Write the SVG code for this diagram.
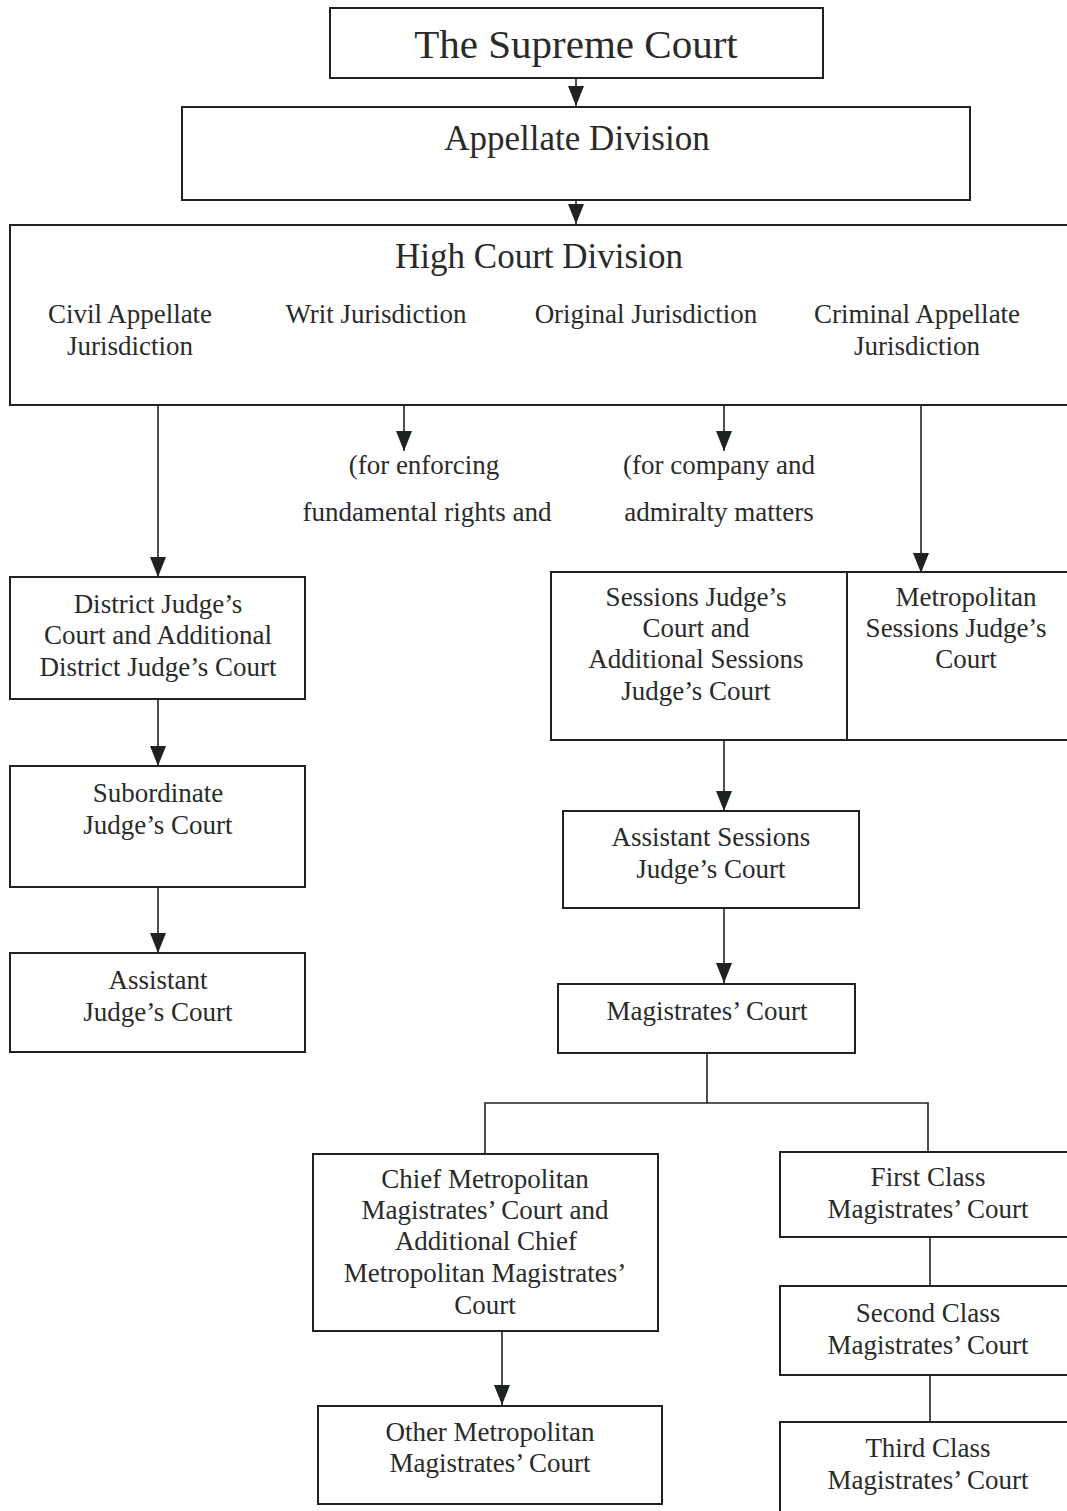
<svg xmlns="http://www.w3.org/2000/svg" width="1067" height="1511" viewBox="0 0 1067 1511">
<style>
.box{fill:#fff;stroke:#1e2222;stroke-width:2}
.c{fill:none;stroke:#1e2222;stroke-width:1.6}
text{font-family:"Liberation Serif","Times New Roman",serif;fill:#2a2a2a;text-anchor:middle;font-size:27px}
.t1{font-size:41px}
.t2{font-size:35px}
</style>
<defs>
<marker id="a" markerUnits="userSpaceOnUse" markerWidth="20" markerHeight="16" viewBox="0 0 20 16" refX="20" refY="8" orient="auto">
<path d="M0,0 L20,8 L0,16 Z" fill="#1e2222"/>
</marker>
</defs>
<rect width="1067" height="1511" fill="#fff"/>
<g id="connectors">
<line class="c" x1="576" y1="78" x2="576" y2="106" marker-end="url(#a)"/>
<line class="c" x1="576" y1="200" x2="576" y2="224" marker-end="url(#a)"/>
<line class="c" x1="158" y1="405" x2="158" y2="577" marker-end="url(#a)"/>
<line class="c" x1="404" y1="405" x2="404" y2="451" marker-end="url(#a)"/>
<line class="c" x1="724" y1="405" x2="724" y2="451" marker-end="url(#a)"/>
<line class="c" x1="921" y1="405" x2="921" y2="573" marker-end="url(#a)"/>
<line class="c" x1="158" y1="699" x2="158" y2="766" marker-end="url(#a)"/>
<line class="c" x1="158" y1="887" x2="158" y2="953" marker-end="url(#a)"/>
<line class="c" x1="724" y1="740" x2="724" y2="811" marker-end="url(#a)"/>
<line class="c" x1="724" y1="908" x2="724" y2="983" marker-end="url(#a)"/>
<polyline class="c" points="707,1053 707,1103"/>
<polyline class="c" points="485,1154 485,1103 928,1103 928,1152"/>
<line class="c" x1="502" y1="1331" x2="502" y2="1405" marker-end="url(#a)"/>
<line class="c" x1="930" y1="1237" x2="930" y2="1286"/>
<line class="c" x1="930" y1="1375" x2="930" y2="1422"/>
</g>
<g id="supreme">
<rect class="box" x="330" y="8" width="493" height="70"/>
<text class="t1" x="576" y="58">The Supreme Court</text>
</g>
<g id="appellate">
<rect class="box" x="182" y="107" width="788" height="93"/>
<text class="t2" x="577" y="150">Appellate Division</text>
</g>
<g id="highcourt">
<rect class="box" x="10" y="225" width="1070" height="180"/>
<text class="t2" x="539" y="268">High Court Division</text>
<text x="130" y="323">Civil Appellate</text>
<text x="130" y="355">Jurisdiction</text>
<text x="376" y="323">Writ Jurisdiction</text>
<text x="646" y="323">Original Jurisdiction</text>
<text x="917" y="323">Criminal Appellate</text>
<text x="917" y="355">Jurisdiction</text>
</g>
<g id="writ-note">
<text x="424" y="474">(for enforcing</text>
<text x="427" y="521">fundamental rights and</text>
</g>
<g id="original-note">
<text x="719" y="474">(for company and</text>
<text x="719" y="521">admiralty matters</text>
</g>
<g id="district">
<rect class="box" x="10" y="577" width="295" height="122"/>
<text x="158" y="613">District Judge’s</text>
<text x="158" y="644">Court and Additional</text>
<text x="158" y="676">District Judge’s Court</text>
</g>
<g id="subordinate">
<rect class="box" x="10" y="766" width="295" height="121"/>
<text x="158" y="802">Subordinate</text>
<text x="158" y="834">Judge’s Court</text>
</g>
<g id="assistant-judge">
<rect class="box" x="10" y="953" width="295" height="99"/>
<text x="158" y="989">Assistant</text>
<text x="158" y="1021">Judge’s Court</text>
</g>
<g id="sessions">
<rect class="box" x="551" y="572" width="296" height="168"/>
<text x="696" y="606">Sessions Judge’s</text>
<text x="696" y="637">Court and</text>
<text x="696" y="668">Additional Sessions</text>
<text x="696" y="700">Judge’s Court</text>
</g>
<g id="metro-sessions">
<rect class="box" x="847" y="572" width="230" height="168"/>
<text x="966" y="606">Metropolitan</text>
<text x="956" y="637">Sessions Judge’s</text>
<text x="966" y="668">Court</text>
</g>
<g id="assistant-sessions">
<rect class="box" x="563" y="811" width="296" height="97"/>
<text x="711" y="846">Assistant Sessions</text>
<text x="711" y="878">Judge’s Court</text>
</g>
<g id="magistrates">
<rect class="box" x="558" y="984" width="297" height="69"/>
<text x="707" y="1020">Magistrates’ Court</text>
</g>
<g id="chief-metro">
<rect class="box" x="313" y="1154" width="345" height="177"/>
<text x="485" y="1188">Chief Metropolitan</text>
<text x="485" y="1219">Magistrates’ Court and</text>
<text x="486" y="1250">Additional Chief</text>
<text x="485" y="1282">Metropolitan Magistrates’</text>
<text x="485" y="1314">Court</text>
</g>
<g id="other-metro">
<rect class="box" x="318" y="1406" width="344" height="98"/>
<text x="490" y="1441">Other Metropolitan</text>
<text x="490" y="1472">Magistrates’ Court</text>
</g>
<g id="first-class">
<rect class="box" x="780" y="1152" width="297" height="85"/>
<text x="928" y="1186">First Class</text>
<text x="928" y="1218">Magistrates’ Court</text>
</g>
<g id="second-class">
<rect class="box" x="780" y="1286" width="297" height="89"/>
<text x="928" y="1322">Second Class</text>
<text x="928" y="1354">Magistrates’ Court</text>
</g>
<g id="third-class">
<rect class="box" x="780" y="1422" width="297" height="100"/>
<text x="928" y="1457">Third Class</text>
<text x="928" y="1489">Magistrates’ Court</text>
</g>
</svg>
